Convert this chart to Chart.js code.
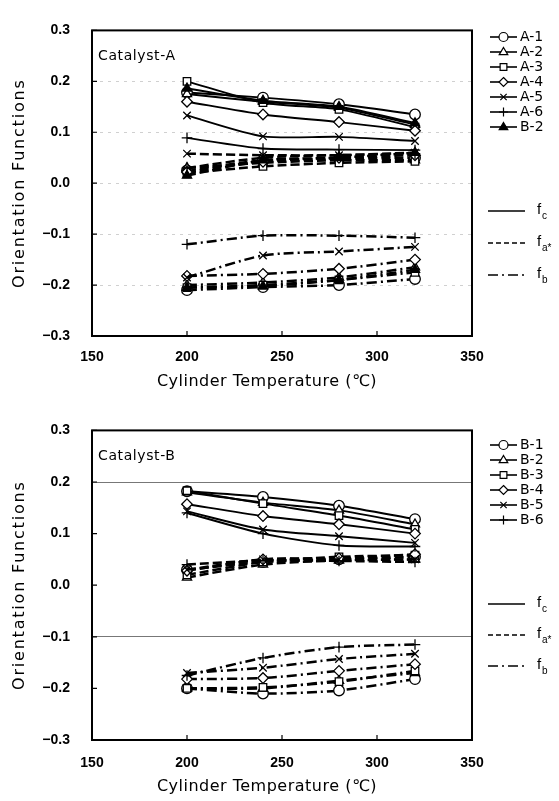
<!DOCTYPE html>
<html>
<head>
<meta charset="utf-8">
<script src="https://cdn.jsdelivr.net/npm/chart.js@4.4.1/dist/chart.umd.min.js"></script>
<style>
  body { margin: 0; background: #fff; }
  .panel { position: absolute; left: 0; width: 559px; }
</style>
</head>
<body>
<div class="panel" style="top:0;height:400px"><canvas id="chartA" width="559" height="400"></canvas></div>
<div class="panel" style="top:400px;height:401px"><canvas id="chartB" width="559" height="401"></canvas></div>
<script>
const temps = [200, 240, 280, 320];

// Catalyst-A samples
const namesA = ['A-1', 'A-2', 'A-3', 'A-4', 'A-5', 'A-6', 'B-2'];
const fcA = [
  [0.178, 0.168, 0.155, 0.135],
  [0.175, 0.160, 0.148, 0.115],
  [0.200, 0.158, 0.145, 0.110],
  [0.160, 0.135, 0.120, 0.103],
  [0.133, 0.092, 0.091, 0.083],
  [0.089, 0.068, 0.066, 0.065],
  [0.186, 0.162, 0.150, 0.118]
];
const faA = [
  [0.025, 0.045, 0.048, 0.050],
  [0.030, 0.040, 0.045, 0.045],
  [0.020, 0.033, 0.040, 0.043],
  [0.022, 0.042, 0.050, 0.055],
  [0.058, 0.055, 0.055, 0.060],
  [0.030, 0.050, 0.055, 0.058],
  [0.015, 0.045, 0.050, 0.060]
];
const fbA = [
  [-0.210, -0.204, -0.200, -0.188],
  [-0.200, -0.195, -0.185, -0.165],
  [-0.205, -0.200, -0.190, -0.175],
  [-0.182, -0.178, -0.168, -0.150],
  [-0.185, -0.142, -0.134, -0.125],
  [-0.120, -0.103, -0.103, -0.107],
  [-0.205, -0.202, -0.190, -0.170]
];

// Catalyst-B samples
const namesB = ['B-1', 'B-2', 'B-3', 'B-4', 'B-5', 'B-6'];
const fcB = [
  [0.182, 0.171, 0.154, 0.128],
  [0.180, 0.160, 0.145, 0.118],
  [0.183, 0.158, 0.135, 0.108],
  [0.157, 0.134, 0.118, 0.100],
  [0.143, 0.108, 0.095, 0.082],
  [0.140, 0.100, 0.077, 0.075]
];
const faB = [
  [0.030, 0.045, 0.050, 0.055],
  [0.015, 0.040, 0.048, 0.050],
  [0.020, 0.045, 0.055, 0.058],
  [0.028, 0.050, 0.052, 0.060],
  [0.030, 0.050, 0.050, 0.050],
  [0.040, 0.048, 0.047, 0.045]
];
const fbB = [
  [-0.200, -0.210, -0.204, -0.182],
  [-0.200, -0.200, -0.185, -0.170],
  [-0.200, -0.198, -0.187, -0.166],
  [-0.182, -0.180, -0.166, -0.153],
  [-0.170, -0.160, -0.143, -0.133],
  [-0.175, -0.141, -0.120, -0.115]
];

const funcNames = [['f', 'c'], ['f', 'a*'], ['f', 'b']];
const xTitle = 'Cylinder Temperature (℃)';
const yTitle = 'Orientation Functions';

const marksA = ['circle', 'triangle', 'rect', 'rectRot', 'crossRot', 'cross', 'triangle'];
const fillsA = ['#fff', '#fff', '#fff', '#fff', '#fff', '#fff', '#000'];
const marksB = ['circle', 'triangle', 'rect', 'rectRot', 'crossRot', 'cross'];
const fillsB = ['#fff', '#fff', '#fff', '#fff', '#fff', '#fff'];

const dashes = [[], [9, 4], [10, 4, 2, 4]];
const FONT = '"Liberation Sans", Arial, sans-serif';
const WIDE = '"DejaVu Sans", sans-serif';

function buildSets(names, fc, fa, fb, marks, fills) {
  const sets = [];
  const series = [fc, fa, fb];
  names.forEach((name, i) => {
    series.forEach((vals, j) => {
      sets.push({
        label: name + ' ' + funcNames[j].join(''),
        data: temps.map((t, k) => ({ x: t, y: vals[i][k] })),
        order: names.length - i,   // later samples sit on top
        borderColor: '#000',
        borderWidth: j === 0 ? 1.9 : 2.5,
        borderDash: dashes[j],
        tension: 0.25,
        pointStyle: marks[i],
        pointRadius: 5.3,
        pointBackgroundColor: fills[i],
        pointBorderColor: '#000',
        pointBorderWidth: 1.3
      });
    });
  });
  return sets;
}

function marker(ctx, style, fill, x, y, r) {
  ctx.save();
  ctx.setLineDash([]);
  ctx.lineWidth = 1.2;
  ctx.strokeStyle = '#000';
  ctx.fillStyle = fill;
  ctx.beginPath();
  if (style === 'circle') {
    ctx.arc(x, y, r, 0, Math.PI * 2);
  } else if (style === 'triangle') {
    ctx.moveTo(x, y - r);
    ctx.lineTo(x + r * 0.95, y + r * 0.6);
    ctx.lineTo(x - r * 0.95, y + r * 0.6);
    ctx.closePath();
  } else if (style === 'rect') {
    ctx.rect(x - r * 0.75, y - r * 0.75, r * 1.5, r * 1.5);
  } else if (style === 'rectRot') {
    ctx.moveTo(x, y - r); ctx.lineTo(x + r, y); ctx.lineTo(x, y + r); ctx.lineTo(x - r, y); ctx.closePath();
  } else if (style === 'crossRot') {
    ctx.moveTo(x - r * 0.7, y - r * 0.7); ctx.lineTo(x + r * 0.7, y + r * 0.7);
    ctx.moveTo(x + r * 0.7, y - r * 0.7); ctx.lineTo(x - r * 0.7, y + r * 0.7);
  } else if (style === 'cross') {
    ctx.moveTo(x, y - r); ctx.lineTo(x, y + r);
    ctx.moveTo(x - r, y); ctx.lineTo(x + r, y);
  }
  if (style !== 'crossRot' && style !== 'cross') ctx.fill();
  ctx.stroke();
  ctx.restore();
}

// frame, inward ticks, axis titles, caption and the two keys on the right
function decor(caption, names, marks, fills, keyTop, funcYs, xTitleY) {
  return {
    id: 'decor',
    afterDatasetsDraw(chart) {
      const ctx = chart.ctx;
      const a = chart.chartArea;
      const xs = chart.scales.x, ys = chart.scales.y;
      ctx.save();
      ctx.strokeStyle = '#000';
      ctx.lineWidth = 2;
      ctx.setLineDash([]);
      ctx.strokeRect(a.left, a.top, a.right - a.left, a.bottom - a.top);
      ctx.lineWidth = 1.2;
      ctx.beginPath();
      xs.ticks.forEach(t => {
        const px = xs.getPixelForValue(t.value);
        ctx.moveTo(px, a.bottom); ctx.lineTo(px, a.bottom - 5);
      });
      ys.ticks.forEach(t => {
        const py = ys.getPixelForValue(t.value);
        ctx.moveTo(a.left, py); ctx.lineTo(a.left + 5, py);
      });
      ctx.stroke();

      ctx.fillStyle = '#000';
      ctx.textBaseline = 'middle';

      // axis titles
      ctx.textAlign = 'center';
      ctx.font = '16px ' + WIDE;
      ctx.letterSpacing = '0.5px';
      ctx.fillText(xTitle, 267, xTitleY);
      ctx.save();
      ctx.translate(20, (a.top + a.bottom) / 2);
      ctx.rotate(-Math.PI / 2);
      ctx.letterSpacing = '1.8px';
      ctx.fillText(yTitle, 0, 0);
      ctx.restore();
      ctx.letterSpacing = '0px';

      ctx.textAlign = 'left';
      ctx.font = '14px ' + WIDE;
      ctx.letterSpacing = '0.6px';
      ctx.fillText(caption, a.left + 6, a.top + 26);
      ctx.letterSpacing = '0px';

      // sample key
      names.forEach((n, i) => {
        const y = keyTop + i * 15;
        ctx.lineWidth = 1.6;
        ctx.beginPath();
        ctx.moveTo(490, y); ctx.lineTo(517, y);
        ctx.stroke();
        marker(ctx, marks[i], fills[i], 503.5, y, 4.5);
        ctx.fillStyle = '#000';
        ctx.font = '14px ' + WIDE;
        ctx.fillText(n, 520, y + 0.5);
      });

      // function key
      funcNames.forEach((f, j) => {
        const y = funcYs[j];
        ctx.lineWidth = 1.3;
        ctx.setLineDash(j === 0 ? [] : (j === 1 ? [5, 3] : [10, 4, 2, 4]));
        ctx.beginPath();
        ctx.moveTo(488, y); ctx.lineTo(525, y);
        ctx.stroke();
        ctx.setLineDash([]);
        ctx.font = '15px ' + FONT;
        ctx.fillText(f[0], 537, y - 1);
        ctx.font = '10px ' + FONT;
        ctx.fillText(f[1], 542, y + 5);
      });
      ctx.restore();
    }
  };
}

function makeChart(id, sets, opts) {
  return new Chart(document.getElementById(id), {
    type: 'line',
    data: { datasets: sets },
    plugins: [opts.decor],
    options: {
      responsive: false,
      animation: false,
      layout: { padding: { top: opts.top, right: 87, left: 0, bottom: 0 } },
      plugins: { legend: { display: false }, tooltip: { enabled: false } },
      scales: {
        x: {
          type: 'linear', min: 150, max: 350,
          ticks: { stepSize: 50, padding: opts.xPad, color: '#000', font: { family: FONT, size: 14, weight: 'bold' } },
          grid: { display: false, drawTicks: false },
          border: { display: false },
          afterFit: s => { s.height = opts.xHeight; }
        },
        y: {
          min: -0.3, max: 0.3,
          ticks: {
            stepSize: 0.1, padding: 22, color: '#000',
            font: { family: FONT, size: 14, weight: 'bold' },
            callback: v => (Math.round(v * 10) / 10).toFixed(1).replace('-', '−')
          },
          grid: { drawTicks: false, color: opts.gridColor, lineWidth: 1 },
          border: { display: false, dash: opts.gridDash },
          afterFit: s => { s.width = 92; }
        }
      }
    }
  });
}

makeChart('chartA', buildSets(namesA, fcA, faA, fbA, marksA, fillsA), {
  top: 19, xHeight: 64, xPad: 13,
  gridColor: c => (Math.abs(c.tick.value) > 0.29 ? 'rgba(0,0,0,0)' : '#d0d0d0'),
  gridDash: [3, 5],
  decor: decor('Catalyst-A', namesA, marksA, fillsA, 37, [211, 243, 275], 382)
});

makeChart('chartB', buildSets(namesB, fcB, faB, fbB, marksB, fillsB), {
  top: 26, xHeight: 61, xPad: 15,
  gridColor: c => (Math.abs(c.tick.value - 0.2) < 1e-6 || Math.abs(c.tick.value + 0.1) < 1e-6 ? '#777' : 'rgba(0,0,0,0)'),
  gridDash: [],
  decor: decor('Catalyst-B', namesB, marksB, fillsB, 45, [204, 235, 266], 387)
});
</script>
</body>
</html>
